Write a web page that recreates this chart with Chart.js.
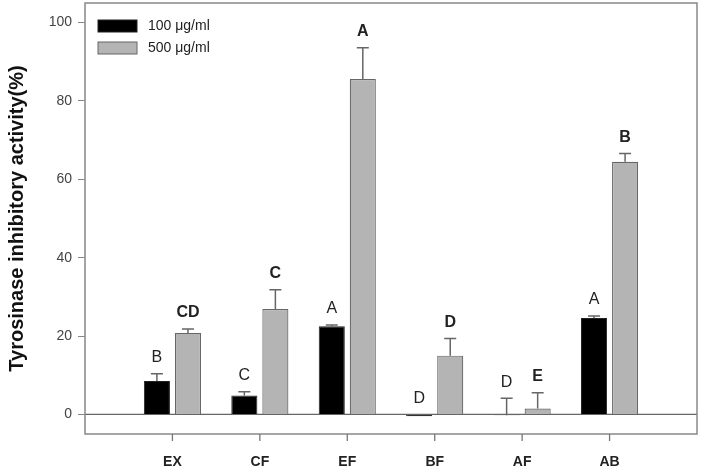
<!DOCTYPE html>
<html>
<head>
<meta charset="utf-8">
<script src="https://cdn.jsdelivr.net/npm/chart.js@4.4.1/dist/chart.umd.min.js"></script>
<style>
  html, body { margin: 0; padding: 0; background: #fff; }
  #wrap { width: 706px; height: 471px; }
</style>
</head>
<body>
<div id="wrap"><canvas id="tyroChart"></canvas></div>
<script>
// Data
const categories = ['EX', 'CF', 'EF', 'BF', 'AF', 'AB'];
const seriesNames = ['100 \u03bcg/ml', '500 \u03bcg/ml'];
const low = [8.5, 4.8, 22.5, -0.5, -0.2, 24.6];
const lowErr = [1.9, 1.0, 0.3, 0, 4.3, 0.5];
const high = [20.8, 26.9, 85.6, 15.0, 1.5, 64.5];
const highErr = [1.0, 4.9, 8.0, 4.4, 4.0, 2.1];
const lowLetters = ['B', 'C', 'A', 'D', 'D', 'A'];
const highLetters = ['CD', 'C', 'A', 'D', 'E', 'B'];
const yTicks = [0, 20, 40, 60, 80, 100];

// empty slot on each side so the groups sit like the original axis
const pad = arr => [null, ...arr, null];
const labels = ['', ...categories, ''];

const errors = [lowErr, highErr];
const values = [low, high];
const letters = [lowLetters, highLetters];

const figurePlugin = {
  id: 'figureExtras',
  beforeDatasetsDraw(chart) {
    const { ctx, chartArea, scales } = chart;
    const y0 = scales.y.getPixelForValue(0);
    ctx.save();
    ctx.strokeStyle = '#666';
    ctx.lineWidth = 1.2;
    ctx.beginPath();
    ctx.moveTo(chartArea.left, y0);
    ctx.lineTo(chartArea.right, y0);
    ctx.stroke();
    ctx.restore();
  },
  afterDraw(chart) {
    const { ctx, chartArea, scales } = chart;
    const ys = scales.y;
    ctx.save();

    // error bars (upward only) and letters
    [0, 1].forEach(d => {
      const meta = chart.getDatasetMeta(d);
      categories.forEach((c, i) => {
        const el = meta.data[i + 1];
        const v = values[d][i];
        const e = errors[d][i];
        const x = el.x;
        if (e > 0) {
          const yb = ys.getPixelForValue(v);
          const yt = ys.getPixelForValue(v + e);
          ctx.strokeStyle = '#666';
          ctx.lineWidth = 1.5;
          ctx.beginPath();
          ctx.moveTo(x, yb);
          ctx.lineTo(x, yt);
          ctx.moveTo(x - 6, yt);
          ctx.lineTo(x + 6, yt);
          ctx.stroke();
        }
        const top = ys.getPixelForValue(Math.max(v + e, v, 0));
        ctx.fillStyle = '#222';
        ctx.font = (d === 1 ? 'bold ' : '') + '16px "Liberation Sans", Arial, sans-serif';
        ctx.textAlign = 'center';
        ctx.textBaseline = 'middle';
        ctx.fillText(letters[d][i], x, top - 16);
      });
    });

    // frame
    ctx.strokeStyle = '#888';
    ctx.lineWidth = 1.5;
    ctx.strokeRect(chartArea.left, chartArea.top, chartArea.right - chartArea.left, chartArea.bottom - chartArea.top);

    // category tick marks below the frame
    ctx.strokeStyle = '#777';
    ctx.lineWidth = 1.3;
    ctx.beginPath();
    categories.forEach((c, i) => {
      const x = scales.x.getPixelForValue(i + 1);
      ctx.moveTo(x, chartArea.bottom);
      ctx.lineTo(x, chartArea.bottom + 7);
    });
    ctx.stroke();

    // legend inside the plot, top left
    chart.data.datasets.forEach((ds, d) => {
      const bx = chartArea.left + 13;
      const by = chartArea.top + 17 + d * 22;
      ctx.fillStyle = ds.backgroundColor;
      ctx.fillRect(bx, by, 39, 12);
      ctx.strokeStyle = ds.borderColor;
      ctx.lineWidth = 1;
      ctx.strokeRect(bx, by, 39, 12);
      ctx.fillStyle = '#222';
      ctx.font = '14px "Liberation Sans", Arial, sans-serif';
      ctx.textAlign = 'left';
      ctx.textBaseline = 'middle';
      ctx.fillText(ds.label, bx + 50, by + 6);
    });
    ctx.restore();
  }
};

new Chart(document.getElementById('tyroChart'), {
  type: 'bar',
  data: {
    labels: labels,
    datasets: [{
      label: seriesNames[0],
      data: pad(low),
      backgroundColor: '#000000',
      borderColor: '#222222',
      borderWidth: 1
    }, {
      label: seriesNames[1],
      data: pad(high),
      backgroundColor: '#b4b4b4',
      borderColor: '#666666',
      borderWidth: 1.2
    }]
  },
  options: {
    responsive: true,
    maintainAspectRatio: false,
    animation: false,
    categoryPercentage: 0.71,
    barPercentage: 0.84,
    layout: { padding: { top: 3, right: 9, left: 0, bottom: 0 } },
    plugins: {
      legend: { display: false },
      tooltip: { enabled: false }
    },
    scales: {
      x: {
        offset: false,
        afterFit: s => { s.height = 37; s.paddingLeft = 0; s.paddingRight = 0; },
        border: { display: false },
        grid: { display: false, drawTicks: false },
        ticks: {
          padding: 20,
          autoSkip: false,
          maxRotation: 0,
          color: '#222',
          font: { family: '"Liberation Sans", Arial, sans-serif', size: 14, weight: 'bold' }
        }
      },
      y: {
        min: -5,
        max: 105,
        afterFit: s => { s.width = 85; s.paddingTop = 0; s.paddingBottom = 0; },
        afterBuildTicks: s => { s.ticks = yTicks.map(v => ({ value: v })); },
        border: { display: false },
        grid: {
          drawOnChartArea: false,
          drawTicks: true,
          tickLength: 7,
          color: '#888'
        },
        ticks: {
          padding: 6,
          color: '#444',
          font: { family: '"Liberation Sans", Arial, sans-serif', size: 14 }
        },
        title: {
          display: true,
          text: 'Tyrosinase inhibitory activity(%)',
          color: '#111',
          padding: { top: 5, bottom: 0 },
          font: { family: '"Liberation Sans", Arial, sans-serif', size: 20, weight: 'bold' }
        }
      }
    }
  },
  plugins: [figurePlugin]
});
</script>
</body>
</html>
